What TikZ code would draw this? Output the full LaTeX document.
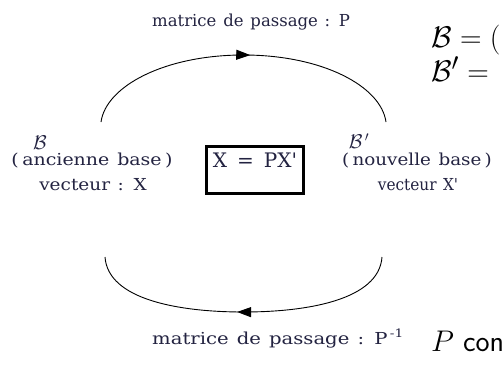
\documentclass[tikz,border=0pt]{standalone}
\usepackage{fontspec}
\newfontfamily\lblfont[WordSpace=1.3]{DejaVu Serif}
\usetikzlibrary{arrows.meta,decorations.markings}
\definecolor{lblcol}{RGB}{35,35,65}
\begin{document}
\begin{tikzpicture}[x=1pt,y=-1pt,
  lbl/.style={inner sep=0pt,text=lblcol,font=\lblfont\fontsize{16.5}{19}\selectfont},
  scr/.style={inner sep=0pt,text=lblcol,font=\fontsize{17.28}{21}\selectfont},
  bigtxt/.style={inner sep=0pt,anchor=base west,font=\fontsize{24.88}{30}\selectfont},
  loopline/.style={line width=0.9pt,postaction={decorate},
    decoration={markings,mark=at position #1 with {\arrow{Triangle[length=14pt,width=10pt]}}}},
  eqbox/.style={draw,line width=3.2pt,minimum width=96.8pt,minimum height=46.8pt,inner sep=0pt}
]
\useasboundingbox (0,0) rectangle (502,369);
\clip (0,0) rectangle (502,369);
% labels
\node[lbl,anchor=base west] (ptop) at (152,27) {matrice de passage : P};
\node[lbl,anchor=base west] (pbot) at (152,344) {\scalebox{1.19}[1]{matrice de passage : P\textsuperscript{\,-1}}};
\node[scr] (bl) at (40,143) {\scalebox{1.15}{$\mathcal{B}$}};
\node[lbl,anchor=base] (anc) at (92,165) {\scalebox{1.15}[1]{(\hspace{3pt}ancienne base\hspace{3pt})}};
\node[lbl,anchor=base] (vx) at (93,190) {\scalebox{1.12}[1]{vecteur : X}};
\node[scr] (br) at (359,141) {\scalebox{1.15}{$\mathcal{B}^{\,\prime}$}};
\node[lbl,anchor=base] (nouv) at (417,165) {\scalebox{1.11}[1]{(\hspace{3pt}nouvelle base\hspace{3pt})}};
\node[lbl,anchor=base] (vxp) at (418,190) {\scalebox{0.93}[1]{vecteur X'}};
% box
\node[eqbox] (box) at (255,170) {};
\node[lbl,anchor=base,font=\lblfont\fontsize{20}{24}\selectfont] (eq) at (255,167) {X\hspace{10pt}=\hspace{10pt}PX'};
% arc end points
\coordinate (tl) at (101,122);
\coordinate (tm) at (243.5,55);
\coordinate (tr) at (386,122);
\coordinate (bll) at (105,257);
\coordinate (bm) at (243.5,312);
\coordinate (brr) at (382,257);
\draw[loopline=0.52] (tl) .. controls (106,86) and (165,55) .. (tm)
                          .. controls (322,55) and (381,86) .. (tr);
\draw[loopline=0.52] (brr) .. controls (379,300) and (307,312) .. (bm)
                          .. controls (180,312) and (108,300) .. (bll);
% right side text (cut by the frame, as in the reference)
\node[bigtxt] (eqb) at (431,48) {\scalebox{1.2}{$\mathcal{B} = ($}};
\node[bigtxt] (eqbp) at (431,81) {\scalebox{1.2}{$\mathcal{B}' =$}};
\node[bigtxt] (pc) at (431,351) {\scalebox{1.2}{$P$ \textsf{con}}};
\end{tikzpicture}
\end{document}
